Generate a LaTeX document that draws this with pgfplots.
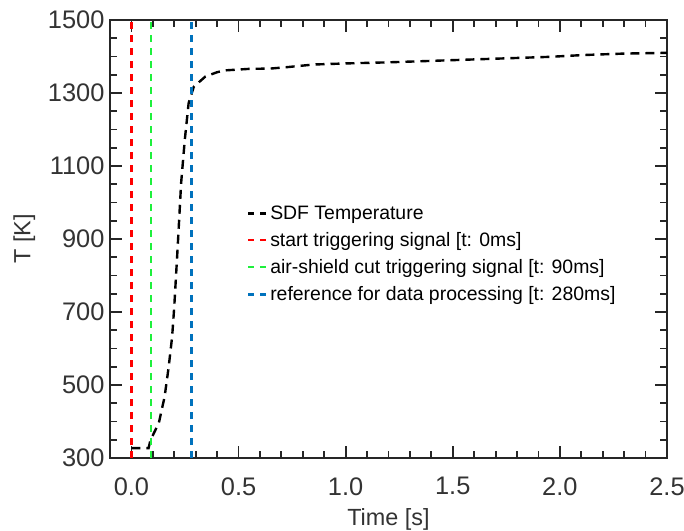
\documentclass[border=0pt]{standalone}
\usepackage{fontspec}
\setmainfont{Liberation Sans}
\usepackage{pgfplots}
\pgfplotsset{compat=1.18}
\definecolor{axgray}{RGB}{38,38,38}
\definecolor{txtgray}{RGB}{51,51,51}
\definecolor{tred}{RGB}{255,0,0}
\definecolor{tgreen}{RGB}{30,240,60}
\definecolor{tblue}{RGB}{0,114,189}
\begin{document}
\begin{tikzpicture}
\begin{axis}[
  name=ax,
  scale only axis, width=557bp, height=438bp,
  xmin=-0.1, xmax=2.5, ymin=300, ymax=1500,
  xtick={0,0.5,...,2.5}, minor x tick num=4,
  ytick={300,500,...,1500}, minor y tick num=3,
  tick align=inside,
  major tick length=12bp, minor tick length=7bp,
  axis line style={axgray, line width=2bp},
  tick style={axgray, line width=1.8bp},
  /pgf/number format/assume math mode=true,
  /pgf/number format/1000 sep={},
  x tick label style={/pgf/number format/fixed, /pgf/number format/fixed zerofill, /pgf/number format/precision=1, yshift=-16bp},
  y tick label style={xshift=-2bp},
  tick label style={font=\fontsize{25.5}{29}\selectfont, text=txtgray},
  label style={font=\fontsize{23.5}{28}\selectfont, text=txtgray},
  xlabel={Time [s]}, ylabel={T [K]},
  xlabel style={yshift=-6bp},
  ylabel style={yshift=6bp},
  legend style={at={(0.24,0.585)}, anchor=north west, draw=none, fill=none,
    font=\fontsize{19.5}{23}\selectfont, row sep=7.5bp},
  legend cell align=left,
  legend image code/.code={\draw[#1, dash pattern=on 6bp off 6bp] (0bp,0bp) -- (19bp,0bp);},
]
\addplot[black, line width=2.4bp, dash pattern=on 9bp off 6bp] coordinates {
(0.0,327) (0.08,327) (0.089,349) (0.128,396) (0.155,468) (0.174,550) (0.19,632)
(0.2,715) (0.208,797) (0.216,879) (0.232,1053) (0.249,1171) (0.267,1272)
(0.291,1317) (0.345,1345) (0.40,1357) (0.438,1362) (0.547,1366) (0.65,1367)
(0.73,1371) (0.85,1378) (1.0,1381) (1.2,1384) (1.5,1390) (1.8,1396)
(1.95,1399) (2.11,1404) (2.3,1408) (2.5,1410)};
\addlegendentry{SDF Temperature}
\addplot[tred, line width=2.3bp, dash pattern=on 7bp off 6bp] coordinates {(0,300) (0,1500)};
\addlegendentry{start triggering signal [t: 0ms]}
\addplot[tgreen, line width=2.3bp, dash pattern=on 7bp off 6bp] coordinates {(0.09,300) (0.09,1500)};
\addlegendentry{air-shield cut triggering signal [t: 90ms]}
\addplot[tblue, line width=2.3bp, dash pattern=on 7bp off 6bp] coordinates {(0.28,300) (0.28,1500)};
\addlegendentry{reference for data processing [t: 280ms]}
\end{axis}
\pgfresetboundingbox
\path[use as bounding box] ([shift={(-110bp,-73bp)}]ax.south west) rectangle ([shift={(17bp,20bp)}]ax.north east);
\end{tikzpicture}
\end{document}
